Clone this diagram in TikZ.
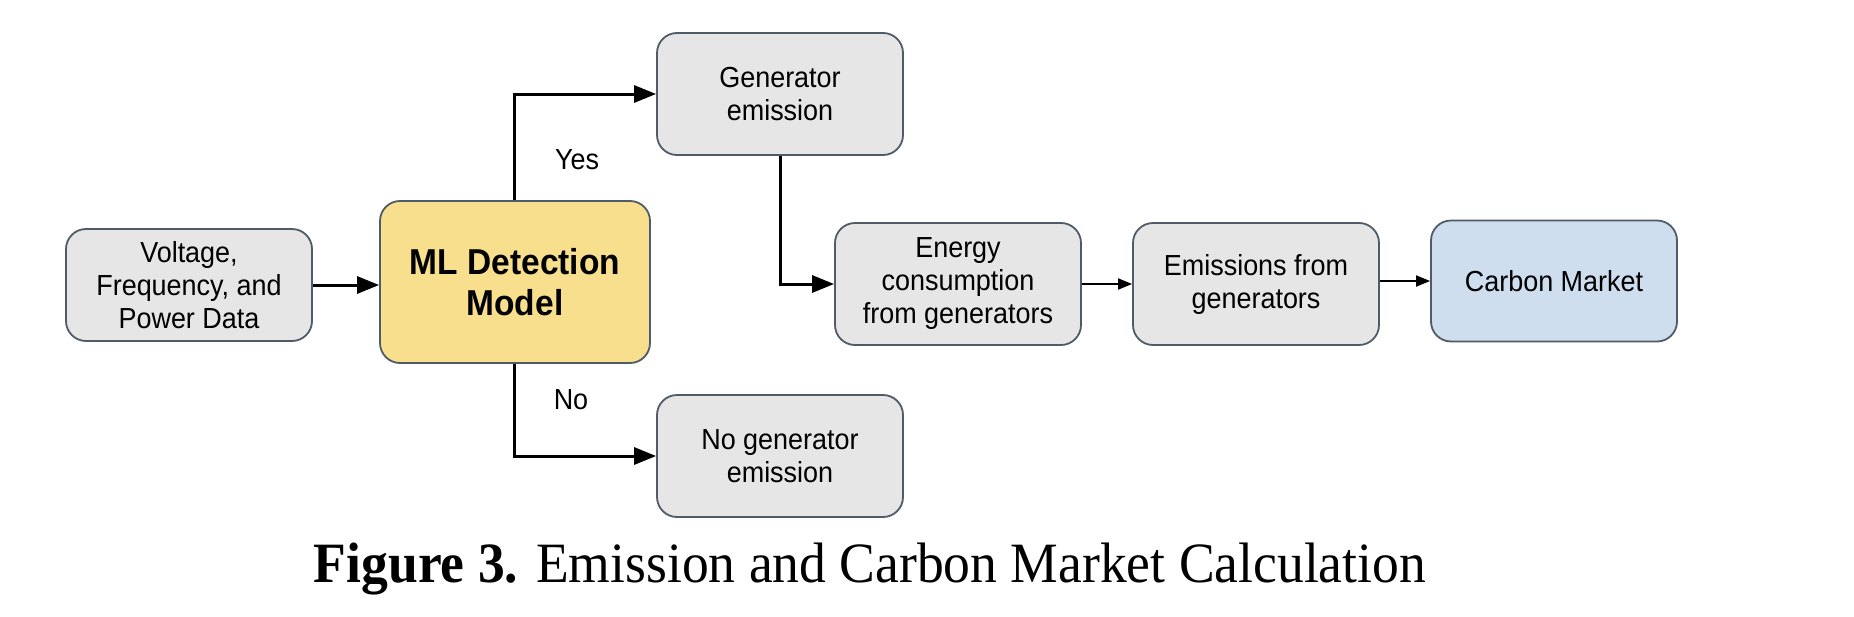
\documentclass[tikz,border=0pt]{standalone}
\usepackage{fontspec}
\setmainfont[FakeStretch=0.94]{Liberation Serif}
\newfontfamily\boxfont[FakeStretch=0.93]{Liberation Sans}
\usetikzlibrary{arrows.meta}
\definecolor{boxgray}{HTML}{E6E6E6}
\definecolor{boxedge}{HTML}{4F5B66}
\definecolor{mlyellow}{HTML}{F7DF8E}
\definecolor{cmblue}{HTML}{CEDEEE}
\tikzset{
  box/.style={draw=boxedge, line width=1.8pt, rounded corners=20pt, fill=boxgray,
    minimum width=246pt, minimum height=122pt, align=center, inner sep=0pt,
    font=\boxfont\fontsize{29}{33}\selectfont},
  thickarrow/.style={line width=3pt, -{Triangle[length=22pt,width=17pt]}},
  thinarrow/.style={line width=1.8pt, -{Triangle[length=14pt,width=11pt]}},
  lbl/.style={font=\boxfont\fontsize{29}{33}\selectfont, inner sep=0pt}
}
\begin{document}
\begin{tikzpicture}[x=1pt,y=-1pt]
\useasboundingbox (0,0) rectangle (1854,616);
\node[box, minimum height=112pt] (volt) at (189,285) {Voltage,\\Frequency, and\\Power Data};
\node[box, fill=mlyellow, minimum width=270pt, minimum height=162pt,
  font=\boxfont\bfseries\fontsize{36}{41}\selectfont] (ml) at (515,282) {ML Detection\\Model};
\node[box] (gen) at (780,94) {Generator\\emission};
\node[box] (nogen) at (780,456) {No generator\\emission};
\node[box] (energy) at (958,284) {Energy\\consumption\\from generators};
\node[box] (emis) at (1256,284) {Emissions from\\generators};
\node[box, fill=cmblue, minimum height=121pt] (cm) at (1554,281) {Carbon Market};
\node[lbl] (yes) at (577,160) {Yes};
\node[lbl] (no) at (571,400) {No};
\draw[thickarrow] (volt.east) -- (ml.west |- volt.east);
\draw[thickarrow] (ml.north -| 514,0) |- (gen.west);
\draw[thickarrow] (ml.south -| 514,0) |- (nogen.west);
\draw[thickarrow] (gen.south) |- (energy.west);
\draw[thinarrow] (energy.east) -- (emis.west);
\draw[thinarrow] (emis.east |- cm.west) -- (cm.west);
\node[font=\fontsize{57}{60}\selectfont, inner sep=0pt, anchor=base] (cap) at (870,582)
  {\textbf{Figure 3.} Emission and Carbon Market Calculation};
\end{tikzpicture}
\end{document}
